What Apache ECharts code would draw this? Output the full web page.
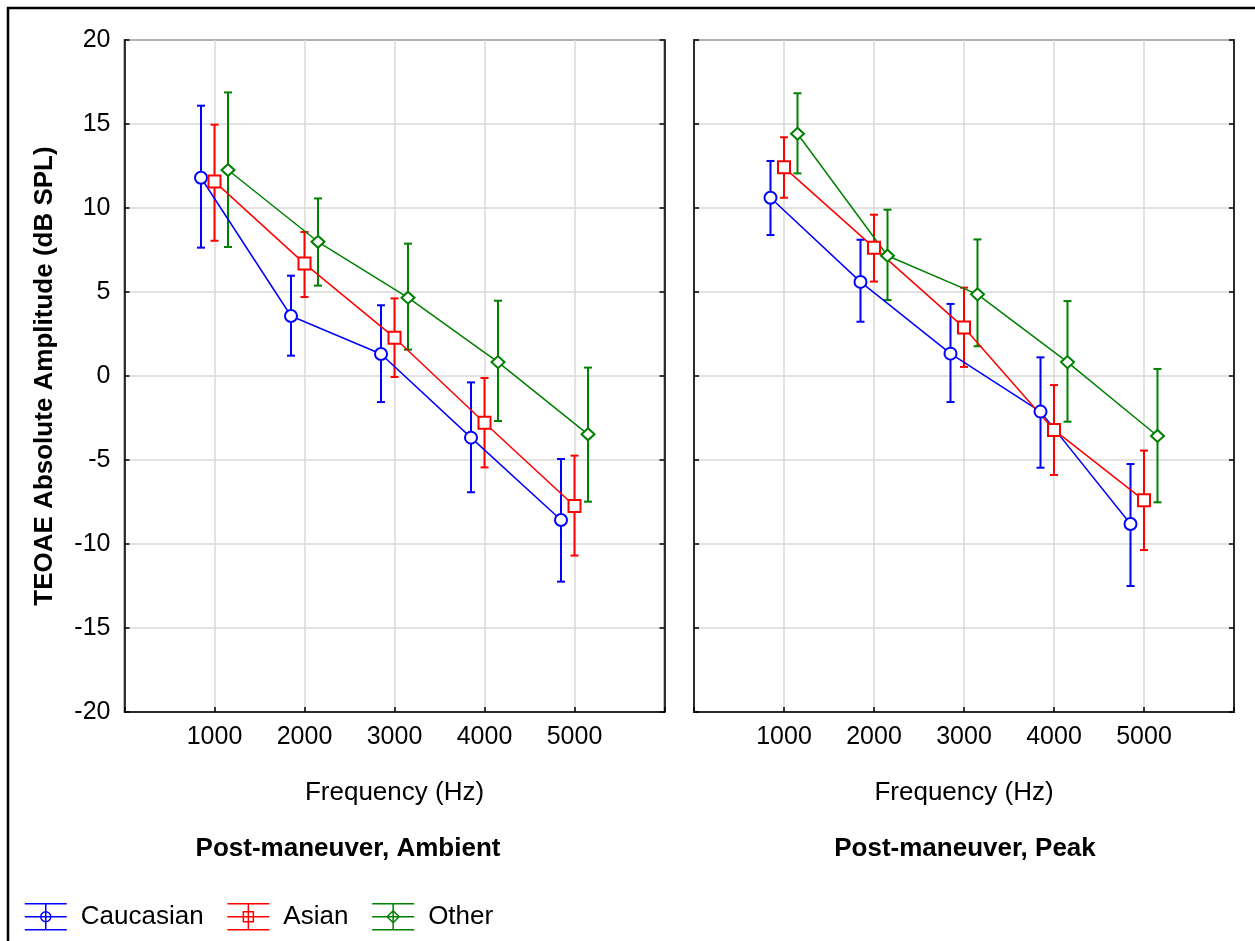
<!DOCTYPE html>
<html>
<head>
<meta charset="utf-8">
<script src="https://cdn.jsdelivr.net/npm/echarts@6/dist/echarts.min.js"></script>
<style>
  html, body { margin: 0; padding: 0; background: #fff; }
  #chart { width: 1255px; height: 941px; }
</style>
</head>
<body>
<div id="chart"></div>
<script>
// Frequencies (Hz) and per-group horizontal offsets so the bars do not overlap
const freqs = [1000, 2000, 3000, 4000, 5000];
const groups = ['Caucasian', 'Asian', 'Other'];
const groupOffsets = [-150, 0, 150];
const yTicks = [-20, -15, -10, -5, 0, 5, 10, 15, 20];

// Post-maneuver, Ambient: means and error-bar limits (dB SPL)
const ambCaucMean = [11.80, 3.57, 1.31, -3.67, -8.57];
const ambCaucLow  = [7.64, 1.21, -1.55, -6.92, -12.24];
const ambCaucHigh = [16.09, 5.97, 4.21, -0.38, -4.94];
const ambAsianMean = [11.57, 6.69, 2.28, -2.78, -7.74];
const ambAsianLow  = [8.05, 4.70, -0.06, -5.44, -10.69];
const ambAsianHigh = [14.96, 8.57, 4.62, -0.12, -4.74];
const ambOtherMean = [12.26, 7.99, 4.66, 0.83, -3.47];
const ambOtherLow  = [7.68, 5.38, 1.57, -2.68, -7.48];
const ambOtherHigh = [16.88, 10.57, 7.88, 4.48, 0.50];

// Post-maneuver, Peak: means and error-bar limits (dB SPL)
const peakCaucMean = [10.61, 5.60, 1.33, -2.12, -8.81];
const peakCaucLow  = [8.39, 3.23, -1.55, -5.46, -12.50];
const peakCaucHigh = [12.80, 8.11, 4.29, 1.11, -5.24];
const peakAsianMean = [12.42, 7.64, 2.88, -3.21, -7.40];
const peakAsianLow  = [10.61, 5.62, 0.54, -5.89, -10.36];
const peakAsianHigh = [14.21, 9.60, 5.26, -0.54, -4.44];
const peakOtherMean = [14.42, 7.16, 4.86, 0.83, -3.57];
const peakOtherLow  = [12.06, 4.52, 1.77, -2.72, -7.52];
const peakOtherHigh = [16.83, 9.90, 8.13, 4.46, 0.42];

const panels = [
  { title: 'Post-maneuver, Ambient',
    mean: [ambCaucMean, ambAsianMean, ambOtherMean],
    low: [ambCaucLow, ambAsianLow, ambOtherLow],
    high: [ambCaucHigh, ambAsianHigh, ambOtherHigh] },
  { title: 'Post-maneuver, Peak',
    mean: [peakCaucMean, peakAsianMean, peakOtherMean],
    low: [peakCaucLow, peakAsianLow, peakOtherLow],
    high: [peakCaucHigh, peakAsianHigh, peakOtherHigh] }
];

const colors = ['#0000ff', '#ff0000', '#008000'];
const symbols = ['emptyCircle', 'emptyRect', 'emptyDiamond'];
const symbolSizes = [12, 12, [13, 12]];
const FONT = '"Liberation Sans", Arial, sans-serif';
const FS_TICK = 25;
const FS = 26;

const gridLefts = [124.5, 694];
const gridTop = 40, gridW = 540, gridH = 672;
const panelTitleX = [348, 965];

const grids = gridLefts.map(l => ({
  left: l, top: gridTop, width: gridW, height: gridH,
  show: true, borderColor: '#000', borderWidth: 1.5, backgroundColor: '#fff'
}));

const xAxes = gridLefts.map((l, i) => ({
  gridIndex: i, type: 'value', min: 0, max: 6000, interval: 1000,
  axisLine: { show: true, onZero: false, lineStyle: { color: '#000', width: 1.5 } },
  axisTick: { show: true, inside: true, length: 5, lineStyle: { color: '#000', width: 1.5 } },
  axisLabel: {
    color: '#000', fontFamily: FONT, fontSize: FS_TICK, margin: 13,
    formatter: v => (freqs.indexOf(v) >= 0 ? String(v) : '')
  },
  splitLine: { show: true, lineStyle: { color: '#d9d9d9', width: 1.5 } }
}));

const yAxes = [];
gridLefts.forEach((l, i) => {
  yAxes.push({
    gridIndex: i, type: 'value', min: -20, max: 20, interval: 5, position: 'left',
    axisLine: { show: true, onZero: false, lineStyle: { color: '#000', width: 1.5 } },
    axisTick: { show: true, inside: true, length: 5, lineStyle: { color: '#000', width: 1.5 } },
    axisLabel: { show: i === 0, color: '#000', fontFamily: FONT, fontSize: FS_TICK, margin: 14 },
    splitLine: { show: true, lineStyle: { color: '#d9d9d9', width: 1.5 } }
  });
  yAxes.push({
    gridIndex: i, type: 'value', min: -20, max: 20, interval: 5, position: 'right',
    axisLine: { show: true, onZero: false, lineStyle: { color: '#000', width: 1.5 } },
    axisTick: { show: true, inside: true, length: 5, lineStyle: { color: '#000', width: 1.5 } },
    axisLabel: { show: false },
    splitLine: { show: false }
  });
});

// Vertical error bar with short caps
function errorBarRenderer(color) {
  return function (params, api) {
    const x = api.value(0);
    const top = api.coord([x, api.value(2)]);
    const bot = api.coord([x, api.value(1)]);
    const cap = 4;
    const style = { stroke: color, lineWidth: 2, fill: null };
    return {
      type: 'group',
      children: [
        { type: 'line', shape: { x1: top[0], y1: top[1], x2: bot[0], y2: bot[1] }, style },
        { type: 'line', shape: { x1: top[0] - cap, y1: top[1], x2: top[0] + cap, y2: top[1] }, style },
        { type: 'line', shape: { x1: bot[0] - cap, y1: bot[1], x2: bot[0] + cap, y2: bot[1] }, style }
      ]
    };
  };
}

const series = [];
panels.forEach((p, pi) => {
  groups.forEach((g, gi) => {
    series.push({
      name: g, type: 'custom', xAxisIndex: pi, yAxisIndex: pi * 2, z: 2,
      renderItem: errorBarRenderer(colors[gi]),
      itemStyle: { color: colors[gi] },
      data: freqs.map((f, k) => [f + groupOffsets[gi], p.low[gi][k], p.high[gi][k]]),
      silent: true
    });
    series.push({
      name: g, type: 'line', xAxisIndex: pi, yAxisIndex: pi * 2, z: 3,
      symbol: symbols[gi], symbolSize: symbolSizes[gi], showAllSymbol: true,
      lineStyle: { color: colors[gi], width: 1.5 },
      itemStyle: { color: colors[gi], borderColor: colors[gi], borderWidth: 1.5 },
      data: freqs.map((f, k) => [f + groupOffsets[gi], p.mean[gi][k]]),
      animation: false, silent: true
    });
  });
});

// Legend icons: a horizontal error bar with the group's marker
const legendIcons = [
  'path://M0,1 L42,1 M0,14 L42,14 M0,27 L42,27 M21,1 L21,27 M26,14 A5,5 0 1 1 16,14 A5,5 0 1 1 26,14 Z',
  'path://M0,1 L42,1 M0,14 L42,14 M0,27 L42,27 M21,1 L21,27 M16,9 L26,9 L26,19 L16,19 Z',
  'path://M0,1 L42,1 M0,14 L42,14 M0,27 L42,27 M21,1 L21,27 M21,8 L27,14 L21,20 L15,14 Z'
];

const textEls = [];
panels.forEach((p, pi) => {
  const cx = gridLefts[pi] + gridW / 2;
  textEls.push({ type: 'text', x: cx, y: 793,
    style: { text: 'Frequency (Hz)', font: FS + 'px ' + FONT, fill: '#000', textAlign: 'center', textVerticalAlign: 'middle' } });
  textEls.push({ type: 'text', x: panelTitleX[pi], y: 849,
    style: { text: p.title, font: 'bold ' + FS + 'px ' + FONT, fill: '#000', textAlign: 'center', textVerticalAlign: 'middle' } });
});
textEls.push({ type: 'text', x: 45, y: 376, rotation: Math.PI / 2,
  style: { text: 'TEOAE Absolute Amplitude (dB SPL)', font: 'bold ' + FS + 'px ' + FONT, fill: '#000', textAlign: 'center', textVerticalAlign: 'middle' } });
textEls.push({ type: 'rect', shape: { x: 8, y: 8, width: 1260, height: 960 },
  style: { fill: null, stroke: '#000', lineWidth: 2.5 }, z: 10 });

const chart = echarts.init(document.getElementById('chart'), null, { renderer: 'canvas' });
chart.setOption({
  animation: false,
  backgroundColor: '#fff',
  grid: grids,
  xAxis: xAxes,
  yAxis: yAxes,
  legend: {
    left: 24, top: 903, padding: 0, itemWidth: 42, itemHeight: 28, itemGap: 23,
    selectedMode: false,
    textStyle: { color: '#000', fontFamily: FONT, fontSize: FS, padding: [0, 0, 0, 9] },
    data: groups.map((g, gi) => ({
      name: g, icon: legendIcons[gi],
      itemStyle: { color: 'rgba(0,0,0,0)', borderColor: colors[gi], borderWidth: 1.5 }
    }))
  },
  graphic: textEls,
  series: series
});
</script>
</body>
</html>
